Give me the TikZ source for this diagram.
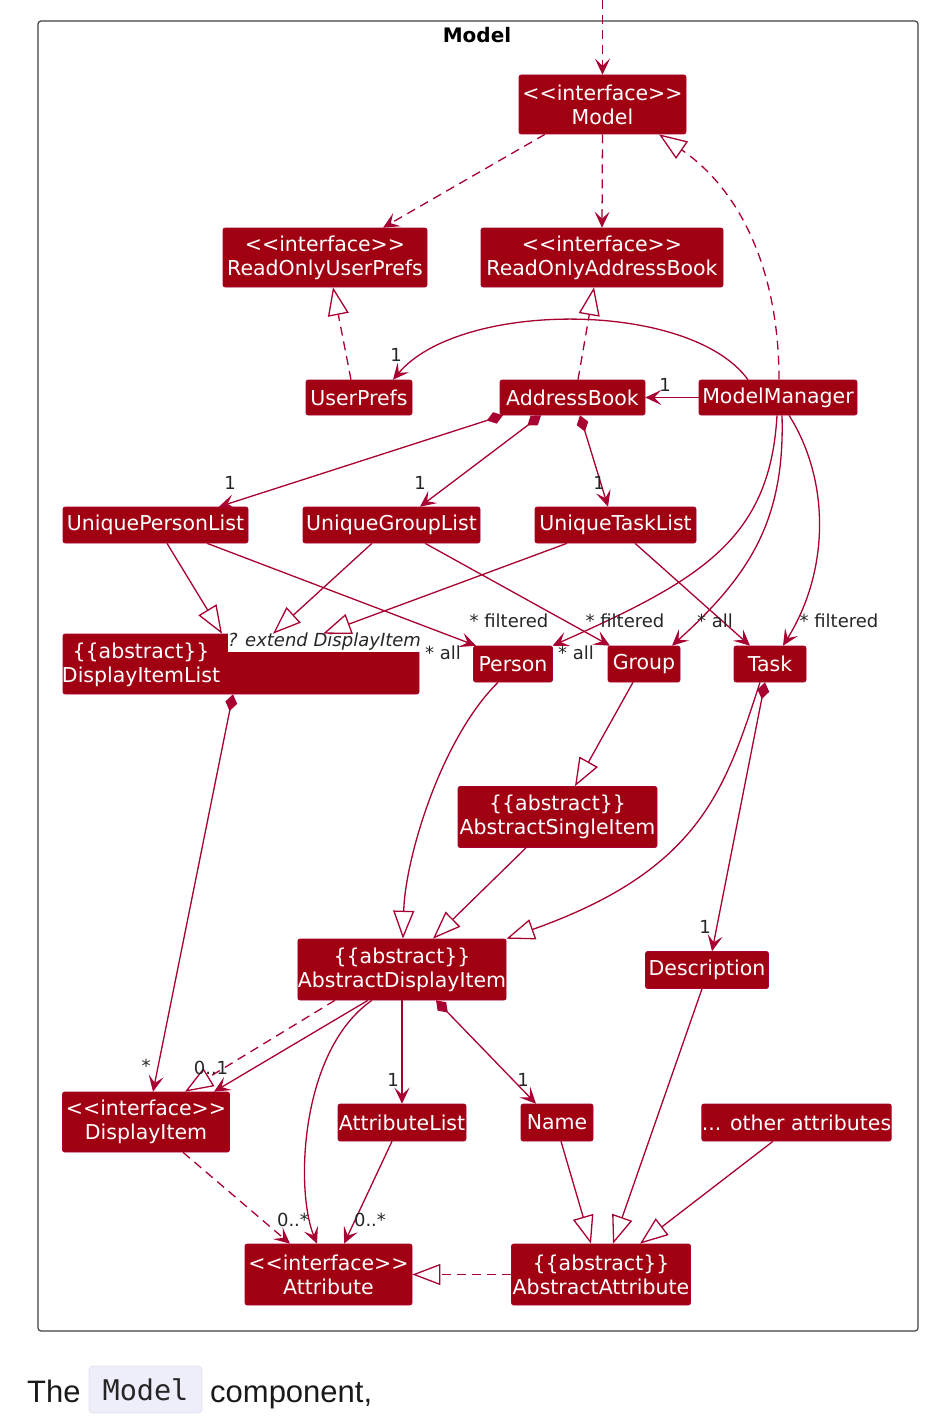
\documentclass[tikz,border=0pt]{standalone}
\usepackage{fontspec}
\setmainfont{DejaVu Sans}
\newfontfamily\capfont{Liberation Sans}
\newfontfamily\codefont{DejaVu Sans Mono}
\usetikzlibrary{arrows.meta}
\definecolor{nfill}{HTML}{A00012}
\definecolor{lcol}{HTML}{A80030}
\definecolor{codebg}{HTML}{EEEEFA}
\definecolor{codebd}{HTML}{E2E2F0}
\newcommand\ltlt{<\kern0pt<}
\newcommand\gtgt{>\kern0pt>}
\begin{document}
\begin{tikzpicture}[x=1pt,y=-1pt,
  cls/.style={fill=nfill, draw=lcol, line width=0.6pt, rounded corners=2pt, text=white,
    font=\fontsize{20.5}{24}\selectfont, align=center, inner sep=0pt},
  lbl/.style={font=\fontsize{18}{20}\selectfont, text=black!85, inner sep=0pt},
  conn/.style={draw=lcol, line width=1.3pt},
  dsh/.style={dash pattern=on 9pt off 6pt},
  vee/.style={-{Stealth[length=16pt,width=15pt,inset=7pt]}},
  ext/.style={-{Triangle[open,length=28pt,width=21pt,fill=white]}},
  comp/.style={{Diamond[length=17pt,width=12pt]}-{Stealth[length=16pt,width=15pt,inset=7pt]}}
]
\useasboundingbox (0,0) rectangle (942,1418);
\fill[white] (0,0) rectangle (942,1418);

% frame
\node[draw=black!75, line width=1.2pt, rounded corners=3pt, minimum width=880pt, minimum height=1310pt, inner sep=0pt] (frame) at (478,676) {};
\node[font=\bfseries\fontsize{20}{22}\selectfont, inner sep=0pt] (ftitle) at (477,35) {Model};

% classes
\node[cls, minimum width=167pt, minimum height=59pt] (mdl) at (602.5,104.5) {\ltlt interface\gtgt\\Model};
\node[cls, minimum width=204pt, minimum height=59pt] (roup) at (325,257.5) {\ltlt interface\gtgt\\ReadOnlyUserPrefs};
\node[cls, minimum width=242pt, minimum height=59pt] (roab) at (602,257.5) {\ltlt interface\gtgt\\ReadOnlyAddressBook};
\node[cls, minimum width=106pt, minimum height=35pt] (up) at (359,397.5) {UserPrefs};
\node[cls, minimum width=145pt, minimum height=35pt] (ab) at (572.5,397.5) {AddressBook};
\node[cls, minimum width=158pt, minimum height=35pt] (mm) at (778,397.5) {ModelManager};
\node[cls, minimum width=185pt, minimum height=36pt] (upl) at (155.5,525) {UniquePersonList};
\node[cls, minimum width=177pt, minimum height=36pt] (ugl) at (391.5,525) {UniqueGroupList};
\node[cls, minimum width=161pt, minimum height=36pt] (utl) at (615.5,525) {UniqueTaskList};

\node[cls, minimum width=356pt, minimum height=60pt] (dil) at (241,664) {};
\node[fill=white, minimum width=194pt, minimum height=20pt, inner sep=0pt,
  font=\itshape\fontsize{18}{20}\selectfont, text=black!85] (dilgen) at (324.5,642) {? extend DisplayItem};
\node[text=white, font=\fontsize{20.5}{24}\selectfont, align=center, inner sep=0pt] (diltxt) at (141,665) {\{\{abstract\}\}\\DisplayItemList};

\node[cls, minimum width=79pt, minimum height=36pt] (per) at (513,664) {Person};
\node[cls, minimum width=72pt, minimum height=36pt] (grp) at (644,664) {Group};
\node[cls, minimum width=72pt, minimum height=36pt] (tsk) at (770,664) {Task};
\node[cls, minimum width=199pt, minimum height=61pt] (asi) at (557.5,817) {\{\{abstract\}\}\\AbstractSingleItem};
\node[cls, minimum width=207pt, minimum height=61pt] (adi) at (402,969.5) {\{\{abstract\}\}\\AbstractDisplayItem};
\node[cls, minimum width=123pt, minimum height=37pt] (dsc) at (707,970) {Description};
\node[cls, minimum width=167pt, minimum height=60pt] (di) at (146,1122) {\ltlt interface\gtgt\\DisplayItem};
\node[cls, minimum width=128pt, minimum height=37pt] (al) at (402,1122.5) {AttributeList};
\node[cls, minimum width=72pt, minimum height=37pt] (nm) at (557,1122.5) {Name};
\node[cls, minimum width=189pt, minimum height=37pt] (oth) at (796.5,1122.5) {... other attributes};
\node[cls, minimum width=167pt, minimum height=61pt] (att) at (328.5,1274.5) {\ltlt interface\gtgt\\Attribute};
\node[cls, minimum width=179pt, minimum height=61pt] (aa) at (601,1274.5) {\{\{abstract\}\}\\AbstractAttribute};

% connectors
\coordinate (topin) at (602.5,0);
\draw[conn,dsh,vee] (topin) -- (mdl.north);
\draw[conn,dsh,vee] ([xshift=-57.5pt]mdl.south) -- ([xshift=58pt]roup.north);
\draw[conn,dsh,vee] (mdl.south) -- (roab.north);
\draw[conn,dsh,ext] ([xshift=1pt]mm.north) .. controls (779,270) and (740,190) .. ([xshift=56.5pt]mdl.south);
\draw[conn,dsh,ext] ([xshift=-8pt]up.north) -- ([xshift=8pt]roup.south);
\draw[conn,dsh,ext] ([xshift=5.5pt]ab.north) -- ([xshift=-8pt]roab.south);
\draw[conn,vee] ([xshift=-30pt]mm.north) .. controls (690,300) and (460,300) .. ([xshift=34pt]up.north);
\draw[conn,vee] (mm.west) -- (ab.east);

\draw[conn,comp] ([xshift=-69.5pt]ab.south) -- ([xshift=63.5pt]upl.north);
\draw[conn,comp] ([xshift=-31.5pt]ab.south) -- ([xshift=28.5pt]ugl.north);
\draw[conn,comp] ([xshift=7.5pt]ab.south) -- ([xshift=-7.5pt]utl.north);

\draw[conn,ext] ([xshift=11.5pt]upl.south) -- ([xshift=-19pt]dil.north);
\draw[conn,ext] ([xshift=-19.5pt]ugl.south) -- ([xshift=32pt]dil.north);
\draw[conn,ext] ([xshift=-48.5pt]utl.south) -- ([xshift=82pt]dil.north);

\draw[conn,vee] ([xshift=51.5pt]upl.south) -- ([xshift=-37pt]per.north);
\draw[conn,vee] ([xshift=33.5pt]ugl.south) -- ([xshift=-34pt]grp.north);
\draw[conn,vee] ([xshift=19.5pt]utl.south) -- ([xshift=-20pt]tsk.north);

\draw[conn,vee] ([xshift=-1pt]mm.south) .. controls (770,540) and (700,580) .. ([xshift=39.5pt]per.north);
\draw[conn,vee] ([xshift=4pt]mm.south) .. controls (785,520) and (750,575) .. ([xshift=28pt]grp.north);
\draw[conn,vee] ([xshift=11pt]mm.south) .. controls (830,480) and (830,570) .. ([xshift=13pt]tsk.north);

\draw[conn,comp] ([xshift=-8pt]dil.south) -- ([xshift=7pt]di.north);

\draw[conn,ext] ([xshift=-15pt]per.south) .. controls (440,740) and (405,860) .. ([xshift=1pt]adi.north);
\draw[conn,ext] ([xshift=-11pt]grp.south) -- ([xshift=17.5pt]asi.north);
\draw[conn,ext] ([xshift=-31.5pt]asi.south) -- ([xshift=31pt]adi.north);
\draw[conn,ext] ([xshift=-10pt]tsk.south) .. controls (725,790) and (700,870) .. (adi.north east);
\draw[conn,comp] ([xshift=-5pt]tsk.south) -- ([xshift=5pt]dsc.north);

\draw[conn,dsh,ext] ([xshift=-67pt]adi.south) -- ([xshift=39pt]di.north);
\draw[conn,vee] ([xshift=-34pt]adi.south) -- ([xshift=68pt]di.north);
\draw[conn,vee] ([xshift=-30pt]adi.south) .. controls (300,1050) and (295,1190) .. ([xshift=-11.5pt]att.north);
\draw[conn,vee] ([xshift=-10pt]al.south) -- ([xshift=15.5pt]att.north);
\draw[conn,dsh,vee] ([xshift=37pt]di.south) -- ([xshift=-38.5pt]att.north);
\draw[conn,vee] (adi.south) -- (al.north);
\draw[conn,comp] ([xshift=34pt]adi.south) -- ([xshift=-21pt]nm.north);

\draw[conn,ext] ([xshift=4pt]nm.south) -- ([xshift=-10pt]aa.north);
\draw[conn,ext] ([xshift=-5pt]dsc.south) -- ([xshift=12pt]aa.north);
\draw[conn,ext] ([xshift=-23.5pt]oth.south) -- ([xshift=39pt]aa.north);
\draw[conn,dsh,ext] (aa.west) -- (att.east);

% multiplicity labels
\node[lbl] (l1) at (396,355) {1};
\node[lbl] (l2) at (665,385) {1};
\node[lbl] (l3) at (230,483) {1};
\node[lbl] (l4) at (420,483) {1};
\node[lbl] (l5) at (599,483) {1};
\node[lbl] (l6) at (509,621) {* filtered};
\node[lbl] (l7) at (625,621) {* filtered};
\node[lbl] (l8) at (715,621) {* all};
\node[lbl] (l9) at (839,621) {* filtered};
\node[lbl] (l10) at (443,653) {* all};
\node[lbl] (l11) at (576,653) {* all};
\node[lbl] (l12) at (705,927) {1};
\node[lbl] (l13) at (146,1066) {*};
\node[lbl] (l14) at (211,1068) {0..1};
\node[lbl] (l15) at (393,1080) {1};
\node[lbl] (l16) at (523,1080) {1};
\node[lbl] (l17) at (293,1220) {0..*};
\node[lbl] (l18) at (370,1220) {0..*};

% caption
\node[anchor=base west, font=\capfont\fontsize{31}{36}\selectfont, text=black!90, inner sep=0pt] (capa) at (27,1402) {The};
\node[fill=codebg, draw=codebd, line width=0.8pt, rounded corners=4pt, minimum width=113pt, minimum height=47pt, inner sep=0pt,
  font=\codefont\fontsize{28.5}{30}\selectfont, text=black!85] (capcode) at (145.5,1389.5) {Model};
\node[anchor=base west, font=\capfont\fontsize{31}{36}\selectfont, text=black!90, inner sep=0pt] (capb) at (210,1402) {component,};
\end{tikzpicture}
\end{document}
